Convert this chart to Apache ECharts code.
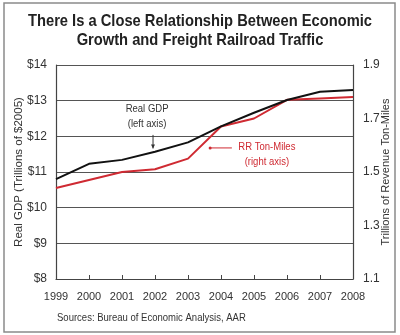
<!DOCTYPE html>
<html>
<head>
<meta charset="utf-8">
<script src="https://cdn.jsdelivr.net/npm/echarts@6/dist/echarts.min.js"></script>
<style>
html,body{margin:0;padding:0;background:#fff;}
#c{width:400px;height:335px;}
</style>
</head>
<body>
<div id="c"></div>
<script>
var years = [1999, 2000, 2001, 2002, 2003, 2004, 2005, 2006, 2007, 2008];
var gdp = [10.80, 11.23, 11.34, 11.57, 11.83, 12.28, 12.66, 13.02, 13.25, 13.30];
var tonMiles = [1.44, 1.47, 1.50, 1.51, 1.55, 1.67, 1.70, 1.77, 1.775, 1.78];
var leftTicks = [8, 9, 10, 11, 12, 13, 14];
var rightTicks = [1.1, 1.3, 1.5, 1.7, 1.9];
var titleLines = ['There Is a Close Relationship Between Economic', 'Growth and Freight Railroad Traffic'];

var FONT = '"Liberation Sans", Arial, Helvetica, sans-serif';
var RED = '#cf2a32';
var NARROW = 0.865;

var chart = echarts.init(document.getElementById('c'), null, {renderer: 'canvas'});

function pairs(vals) { return years.map(function (y, i) { return [y, vals[i]]; }); }

var option = {
  animation: false,
  backgroundColor: '#fff',
  textStyle: {fontFamily: FONT},
  grid: {left: 56, right: 47, top: 65, bottom: 56, outerBoundsMode: 'none', containLabel: false},
  xAxis: {
    type: 'value', min: 1999, max: 2008, interval: 1,
    axisLine: {show: true, lineStyle: {color: '#444', width: 1.2}},
    axisTick: {show: true, inside: true, length: 4, lineStyle: {color: '#444'}},
    axisLabel: {color: '#333', fontSize: 11, fontFamily: FONT, margin: 12,
      formatter: function (v) { return String(v); }},
    splitLine: {show: false}
  },
  yAxis: [{
    type: 'value', min: 8, max: 14, interval: 1,
    name: 'Real GDP (Trillions of $2005)', nameLocation: 'middle', nameGap: 31,
    nameMoveOverlap: false,
    nameTextStyle: {color: '#333', fontSize: 11.5, fontFamily: FONT},
    axisLine: {show: true, lineStyle: {color: '#444', width: 1.2}},
    axisTick: {show: false},
    axisLabel: {color: '#333', fontSize: 12, fontFamily: FONT, margin: 9,
      formatter: function (v) { return '$' + v; }},
    splitLine: {show: true, lineStyle: {color: '#555', width: 1}}
  }, {
    type: 'value', min: 1.1, max: 1.9, position: 'right',
    name: 'Trillions of Revenue Ton-Miles', nameLocation: 'middle', nameGap: 27,
    nameMoveOverlap: false,
    nameTextStyle: {color: '#333', fontSize: 11, fontFamily: FONT},
    axisLine: {show: true, lineStyle: {color: '#444', width: 1.2}},
    axisTick: {show: false},
    axisLabel: {color: '#333', fontSize: 12, fontFamily: FONT, margin: 10,
      customValues: rightTicks,
      formatter: function (v) { return v.toFixed(1); }},
    splitLine: {show: false}
  }],
  series: [{
    name: 'Real GDP', type: 'line', yAxisIndex: 0, data: pairs(gdp),
    symbol: 'none', lineStyle: {color: '#111', width: 2}, z: 3
  }, {
    name: 'RR Ton-Miles', type: 'line', yAxisIndex: 1, data: pairs(tonMiles),
    symbol: 'none', lineStyle: {color: RED, width: 2}, z: 2
  }]
};
chart.setOption(option);

// annotations positioned from data coordinates
function px(x, y, axis) {
  return chart.convertToPixel({xAxisIndex: 0, yAxisIndex: axis}, [x, y]);
}
var gText = px(2001.76, 12.55, 0);
var gA1 = px(2001.94, 12.04, 0);
var gA2 = px(2001.94, 11.66, 0);
var rText = px(2005.39, 1.565, 1);
var rA1 = px(2004.33, 1.59, 1);
var rA2 = px(2003.67, 1.59, 1);

function narrowText(x, y, text, font, fill, align, lh) {
  return {type: 'text', x: x, y: y, scaleX: NARROW,
    style: {text: text, fill: fill, font: font, align: align, verticalAlign: 'middle', lineHeight: lh || 14}};
}

chart.setOption({
  graphic: [
    {type: 'rect', shape: {x: 4, y: 3, width: 391, height: 329},
     style: {fill: 'none', stroke: '#8a8a8a', lineWidth: 1.5}, silent: true},
    narrowText(200, 21, titleLines[0], 'bold 17px ' + FONT, '#222', 'center'),
    narrowText(200, 40, titleLines[1], 'bold 17px ' + FONT, '#222', 'center'),
    narrowText(gText[0], gText[1], 'Real GDP\n(left axis)', '11px ' + FONT, '#333', 'center', 15),
    {type: 'line', shape: {x1: gA1[0], y1: gA1[1], x2: gA2[0], y2: gA2[1]},
     style: {stroke: '#333', lineWidth: 1}},
    {type: 'polygon', shape: {points: [[gA2[0] - 2, gA2[1] - 4], [gA2[0] + 2, gA2[1] - 4], [gA2[0], gA2[1]]]},
     style: {fill: '#333'}},
    narrowText(rText[0], rText[1], 'RR Ton-Miles\n(right axis)', '11px ' + FONT, RED, 'center', 15),
    {type: 'line', shape: {x1: rA1[0], y1: rA1[1], x2: rA2[0], y2: rA2[1]},
     style: {stroke: RED, lineWidth: 1}},
    {type: 'circle', shape: {cx: rA2[0], cy: rA2[1], r: 1.5}, style: {fill: RED}},
    narrowText(57, 318, 'Sources: Bureau of Economic Analysis, AAR', '11px ' + FONT, '#333', 'left')
  ]
});
</script>
</body>
</html>
